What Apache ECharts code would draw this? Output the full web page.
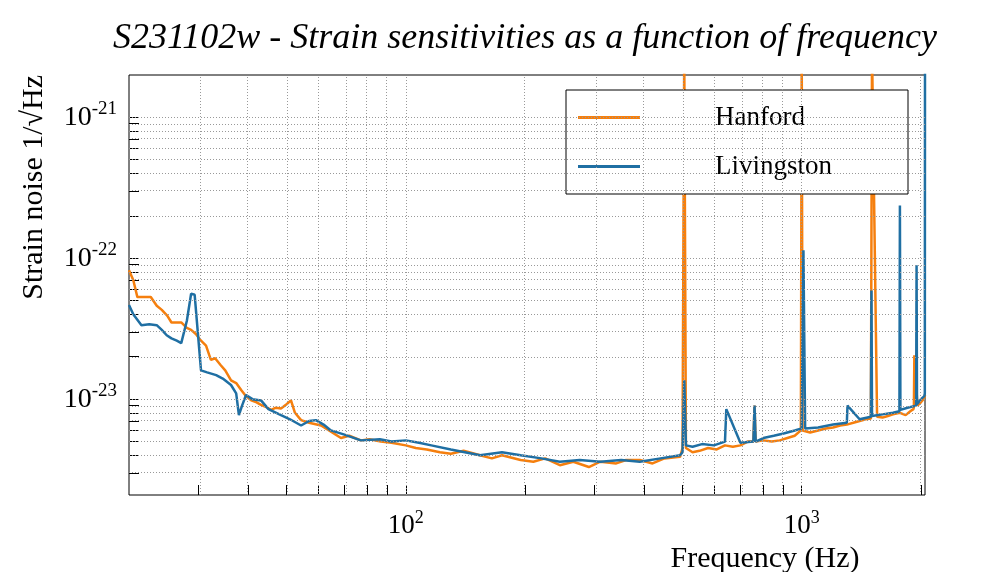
<!DOCTYPE html>
<html><head><meta charset="utf-8">
<script src="https://cdn.jsdelivr.net/npm/echarts@6/dist/echarts.min.js"></script>
<style>html,body{margin:0;background:#fff}#c{width:996px;height:572px}</style>
</head><body><div id="c"></div>
<script>
// Frequencies in Hz, strain values in units of 1e-23 / sqrt(Hz)
const hFreq = [20,20.5,21,22,22.7,23.5,24.2,25,25.6,26.5,27.1,28,28.7,29.5,30.4,31.3,32.2,33,34.1,35,36.2,37.3,38.4,39.5,40.7,42,43.1,44.4,45.7,47,48.4,50,51.3,52.5,54.4,57,61.1,64,68.6,72,77,81,86.5,92,100,106,113,122,130,140,154,165,175,195,210,225,245,265,290,310,340,360,390,420,450,493,500,505,510,530,552,580,610,640,670,700,730,755,760,765,800,840,880,920,960,995,1000,1005,1050,1100,1150,1200,1250,1300,1350,1400,1450,1495,1500,1505,1550,1600,1650,1700,1770,1830,1880,1915,1920,1925,1960,2000,2030,2045,2048];
const hVal  = [8.2,7.0,5.3,5.3,5.3,4.6,4.3,3.9,3.5,3.5,3.5,3.2,3.1,2.9,2.6,2.4,1.9,1.95,1.74,1.6,1.36,1.3,1.16,1.05,0.98,0.95,0.91,0.88,0.84,0.87,0.86,0.92,0.98,0.8,0.71,0.68,0.65,0.6,0.53,0.55,0.51,0.52,0.5,0.49,0.47,0.45,0.44,0.42,0.41,0.43,0.4,0.38,0.4,0.37,0.36,0.38,0.34,0.36,0.33,0.36,0.35,0.37,0.37,0.35,0.38,0.39,0.45,300,0.45,0.42,0.43,0.45,0.44,0.47,0.46,0.47,0.5,0.5,0.9,0.5,0.51,0.5,0.51,0.53,0.55,0.6,300,0.6,0.58,0.6,0.62,0.63,0.65,0.66,0.68,0.7,0.72,0.73,0.75,300,0.75,0.74,0.76,0.78,0.8,0.77,0.82,0.85,0.88,2.05,0.9,0.95,1.0,1.05,1.07,1.1];
const lFreq = [20,20.5,21.5,22.5,23.5,24.2,24.9,25.6,26.4,27.1,28,28.7,29.3,30.4,31.5,33.2,34.5,36.2,37.3,37.9,38.6,39.5,41,43.1,45,48.4,51,54.4,57,59.3,62,64.7,70,77,86,92,100,108,116,130,154,175,195,220,245,275,310,350,390,440,493,500,505,510,530,560,600,640,645,700,755,760,765,800,850,900,960,1000,1010,1020,1100,1200,1300,1305,1400,1495,1500,1505,1600,1700,1765,1770,1775,1850,1945,1950,1955,2000,2040,2046,2048];
const lVal  = [4.65,4.0,3.35,3.4,3.35,3.1,2.84,2.7,2.6,2.5,3.6,5.6,5.5,1.6,1.55,1.48,1.4,1.26,1.1,0.77,0.9,1.07,1.0,0.98,0.85,0.77,0.72,0.65,0.7,0.71,0.66,0.6,0.56,0.51,0.52,0.5,0.51,0.49,0.47,0.44,0.4,0.42,0.4,0.38,0.36,0.37,0.36,0.37,0.36,0.38,0.4,0.42,1.36,0.47,0.46,0.48,0.47,0.5,0.85,0.49,0.5,0.9,0.5,0.53,0.55,0.57,0.6,0.62,11.4,0.62,0.63,0.66,0.68,0.9,0.72,0.75,5.9,0.76,0.78,0.8,0.82,23.7,0.84,0.87,0.9,8.9,0.92,1.0,1.05,1.1,300];
const xLabelVals = [2,3];
const yLabelVals = [-23,-22,-21];

const L = Math.log10;
const toPts = (f, v) => f.map((x, i) => [L(x), L(v[i]) - 23]);
const xMin = L(20), xMax = L(2048), yMin = -23.68, yMax = -20.70;
const xMinor = [], yMinor = [];
for (const d of [10,100,1000]) for (let k=1;k<10;k++){const v=L(k*d); if(v>xMin&&v<xMax) xMinor.push(v);}
for (const e of [-24,-23,-22,-21]) for (let k=1;k<10;k++){const v=L(k)+e; if(v>yMin&&v<yMax) yMinor.push(v);}
const grid = [...xMinor.map(v=>({xAxis:v})), ...yMinor.map(v=>({yAxis:v}))];
const sup = v => '10{s|' + v + '}';
const font = 'Liberation Serif';

const chart = echarts.init(document.getElementById('c'));
chart.setOption({
  animation:false,
  title:{text:'S231102w - Strain sensitivities as a function of frequency',left:108,top:16,
    textStyle:{fontFamily:font,fontStyle:'italic',fontWeight:'normal',fontSize:36,color:'#000'}},
  grid:{left:129,right:71,top:75,bottom:77,show:true,borderColor:'#000',borderWidth:1,outerBoundsMode:'none',containLabel:false},
  legend:{orient:'vertical',left:566,top:90,itemWidth:62,itemHeight:3,itemGap:22,
    padding:[14,76,14,12],backgroundColor:'#fff',borderColor:'#000',borderWidth:1,
    textStyle:{fontFamily:font,fontSize:27,color:'#000',padding:[0,0,0,70]},
    data:[{name:'Hanford',icon:'rect'},{name:'Livingston',icon:'rect'}]},
  xAxis:{type:'value',min:xMin,max:xMax,
    name:'Frequency (Hz)',nameLocation:'middle',nameGap:48,
    nameTextStyle:{fontFamily:font,fontSize:30,color:'#000',verticalAlign:'middle',padding:[0,0,0,476]},
    axisLine:{show:false},splitLine:{show:false},
    axisTick:{inside:true,customValues:xMinor,length:10,lineStyle:{color:'#000'}},
    axisLabel:{customValues:xLabelVals,formatter:v=>sup(Math.round(v)),fontFamily:font,fontSize:27,color:'#000',margin:14,
      rich:{s:{fontSize:18,fontFamily:font,padding:[0,0,16,0]}}}},
  yAxis:{type:'value',min:yMin,max:yMax,
    name:'Strain noise 1/√Hz',nameLocation:'end',nameRotate:90,nameGap:0,
    nameTextStyle:{fontFamily:font,fontSize:30,color:'#000',align:'right',verticalAlign:'bottom',padding:[0,0,80,5]},
    axisLine:{show:false},splitLine:{show:false},
    axisTick:{inside:true,customValues:yMinor,length:10,lineStyle:{color:'#000'}},
    axisLabel:{customValues:yLabelVals,formatter:v=>sup(Math.round(v)),fontFamily:font,fontSize:28,color:'#000',margin:12,
      rich:{s:{fontSize:19,fontFamily:font,padding:[0,0,16,0]}}}},
  series:[
    {name:'grid',type:'line',data:[],silent:true,
      markLine:{silent:true,symbol:'none',label:{show:false},animation:false,
        lineStyle:{color:'#999',type:[1,2],width:1},data:grid}},
    {name:'Hanford',type:'line',data:toPts(hFreq,hVal),showSymbol:false,color:'#f57f0e',lineStyle:{width:2.5},clip:true},
    {name:'Livingston',type:'line',data:toPts(lFreq,lVal),showSymbol:false,color:'#1f6fa3',lineStyle:{width:2.5},clip:true}
  ]
});
</script></body></html>
